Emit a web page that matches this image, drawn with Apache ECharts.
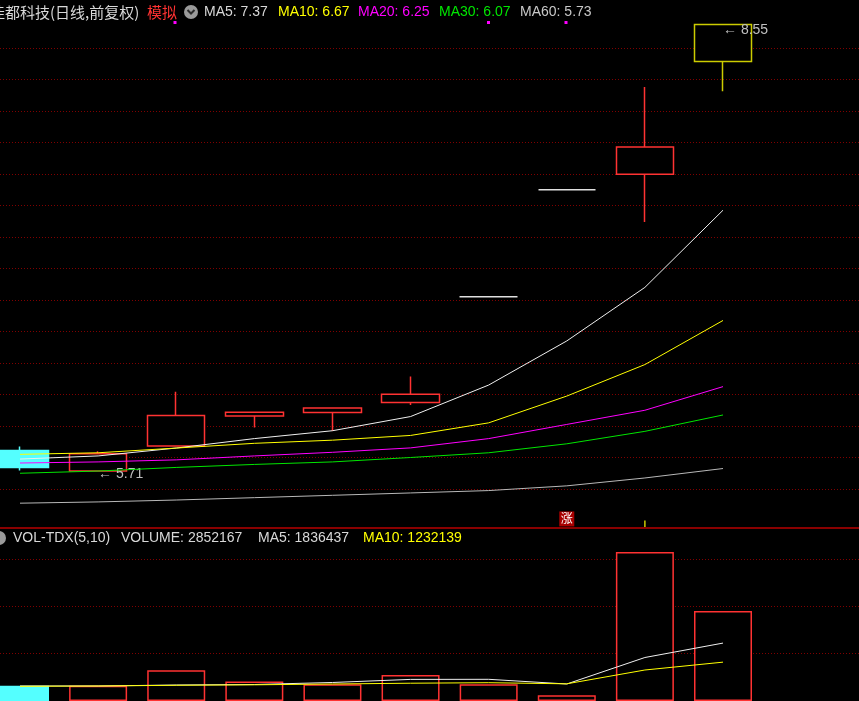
<!DOCTYPE html>
<html>
<head>
<meta charset="utf-8">
<script src="https://cdn.jsdelivr.net/npm/echarts@6/dist/echarts.min.js"></script>
<style>
html,body{margin:0;padding:0;background:#000;}
#c{width:859px;height:701px;}
</style>
</head>
<body>
<div id="c"></div>
<script>
// ---------- data ----------
const categories = ['1','2','3','4','5','6','7','8','9','10'];
const open  = [5.845, 5.714, 5.873, 6.063, 6.086, 6.150, 6.82, 7.50, 7.598, 8.315];
const close = [5.737, 5.824, 6.066, 6.088, 6.114, 6.201, 6.82, 7.50, 7.771, 8.55];
const low   = [5.718, 5.71,  5.873, 5.99,  5.968, 6.133, 6.82, 7.50, 7.295, 8.125];
const high  = [5.87,  5.839, 6.218, 6.088, 6.114, 6.315, 6.82, 7.50, 8.152, 8.55];
const ma5  = [5.79, 5.81, 5.86, 5.92, 5.97, 6.06, 6.26, 6.54, 6.88, 7.37];
const ma10 = [5.82, 5.83, 5.86, 5.89, 5.91, 5.94, 6.02, 6.19, 6.39, 6.67];
const ma20 = [5.765, 5.772, 5.785, 5.81, 5.833, 5.861, 5.92, 6.01, 6.10, 6.25];
const ma30 = [5.70, 5.714, 5.737, 5.756, 5.772, 5.80, 5.83, 5.887, 5.966, 6.07];
const ma60 = [5.51, 5.518, 5.53, 5.545, 5.56, 5.575, 5.59, 5.62, 5.67, 5.73];
const volume  = [484000, 480000, 974000, 620000, 535000, 825000, 530000, 181000, 4725000, 2852167];
const volMa5  = [476000, 476000, 507000, 523000, 587000, 685000, 688000, 539000, 1379000, 1836437];
const volMa10 = [466000, 476000, 498000, 513000, 539000, 564000, 580000, 545000, 983000, 1232139];
const priceTicks = {min: 5.6, max: 8.4, step: 0.2};
const priceRange = {min: 5.3, max: 8.7};
const volTicks = {min: 0, max: 4500000, step: 1500000};
const stockName = '佳都科技(日线,前复权)';
const simulatedLast = true;
const maxMark = {idx: 9, value: 8.55};
const minMark = {idx: 1, value: 5.71};
const riseSignal = {idx: 7, value: 5.41, text: '涨'};
const tickSignal = {idx: 8, value: 5.375};

// ---------- styles / layout ----------
const UP = '#ff3232', DOWN = '#54ffff', FLAT = '#e0e0e0', SIM = '#cccc00';
const C5 = '#f0f0f0', C10 = '#ffff00', C20 = '#ff00ff', C30 = '#00e600', C60 = '#b8b8b8';
const GRIDC = '#800000';
const LATIN = '"Liberation Sans", Arial, "Noto Sans CJK SC", sans-serif';
const CJK = '"Noto Sans CJK SC", sans-serif';
const PX_PER_PRICE = 157.5;          // vertical scale of the price panel
const PRICE_TOP = 48;                // pixel of priceTicks.max
const VOL_TOP = 559.1, VOL_H = 141.9;
const X_FIRST = 20, X_LAST = 723;    // centres of first and last candle

const n = categories.length;
const candleData = categories.map((c, i) => {
  const item = {value: [open[i], close[i], low[i], high[i]]};
  let col = null;
  if (simulatedLast && i === n - 1) col = SIM;
  else if (open[i] === close[i] && high[i] === low[i]) col = FLAT;
  if (col) item.itemStyle = {color: '#000', color0: '#000', borderColor: col, borderColor0: col};
  return item;
});
const volData = categories.map((c, i) => {
  const down = close[i] < open[i];
  return {value: volume[i], itemStyle: down
    ? {color: DOWN, borderColor: DOWN}
    : {color: '#000', borderColor: UP}};
});

function maLine(data, color, xi, yi) {
  return {type: 'line', data: data, xAxisIndex: xi, yAxisIndex: yi, symbol: 'none', showSymbol: false,
    clip: false, silent: true, lineStyle: {color: color, width: 1}, itemStyle: {color: color}, z: 5};
}
const last = a => a[a.length - 1];
const fmt2 = v => v.toFixed(2);

const headerY = 12, volHeaderY = 538;
function txt(x, y, text, fill, font) {
  return {type: 'text', x: x, y: y, silent: true, z: 50,
    style: {text: text, fill: fill, font: font, verticalAlign: 'middle', textVerticalAlign: 'middle'}};
}

const dataTop = PRICE_TOP - (priceRange.max - priceTicks.max) * PX_PER_PRICE;
const dataH = (priceRange.max - priceRange.min) * PX_PER_PRICE;
const gridH = (priceTicks.max - priceTicks.min) * PX_PER_PRICE;

const chart = echarts.init(document.getElementById('c'), null, {renderer: 'canvas'});
const option = {
  backgroundColor: '#000',
  animation: false,
  grid: [
    {left: X_FIRST, width: X_LAST - X_FIRST, top: dataTop, height: dataH},
    {left: 0, right: 0, top: PRICE_TOP, height: gridH},
    {left: X_FIRST, width: X_LAST - X_FIRST, top: VOL_TOP, height: VOL_H},
    {left: 0, right: 0, top: VOL_TOP, height: VOL_H}
  ],
  xAxis: [
    {gridIndex: 0, type: 'category', data: categories, show: false, boundaryGap: false},
    {gridIndex: 1, type: 'value', min: 0, max: 1, show: false},
    {gridIndex: 2, type: 'category', data: categories, show: false, boundaryGap: false},
    {gridIndex: 3, type: 'value', min: 0, max: 1, show: false}
  ],
  yAxis: [
    {gridIndex: 0, type: 'value', min: priceRange.min, max: priceRange.max, show: false},
    {gridIndex: 1, type: 'value', min: priceTicks.min, max: priceTicks.max, interval: priceTicks.step,
      axisLine: {show: false}, axisTick: {show: false}, axisLabel: {show: false},
      splitLine: {show: true, lineStyle: {color: GRIDC, width: 1, type: [1, 2]}}},
    {gridIndex: 2, type: 'value', min: volTicks.min, max: volTicks.max, show: false},
    {gridIndex: 3, type: 'value', min: volTicks.min, max: volTicks.max, interval: volTicks.step,
      axisLine: {show: false}, axisTick: {show: false}, axisLabel: {show: false},
      splitLine: {show: true, lineStyle: {color: GRIDC, width: 1, type: [1, 2]}}}
  ],
  series: [
    {type: 'candlestick', xAxisIndex: 0, yAxisIndex: 0, data: candleData, barWidth: 58, clip: false, z: 3,
      itemStyle: {color: '#000', color0: DOWN, borderColor: UP, borderColor0: DOWN, borderWidth: 1.5},
      markPoint: {
        silent: true, animation: false,
        data: [
          {coord: [maxMark.idx, maxMark.value], symbol: 'circle', symbolSize: 0,
            label: {show: true, position: 'right', distance: 0, offset: [0, 6], formatter: '← ' + fmt2(maxMark.value),
              color: '#c0c0c0', fontSize: 14, fontFamily: LATIN}},
          {coord: [minMark.idx, minMark.value], symbol: 'circle', symbolSize: 0,
            label: {show: true, position: 'right', distance: 0, offset: [0, 2], formatter: '← ' + fmt2(minMark.value),
              color: '#c0c0c0', fontSize: 14, fontFamily: LATIN}},
          {coord: [riseSignal.idx, riseSignal.value], symbol: 'rect', symbolSize: 15,
            itemStyle: {color: '#a80000'},
            label: {show: true, position: 'inside', formatter: riseSignal.text, color: '#ffffff', fontSize: 12, fontFamily: CJK}},
          {coord: [tickSignal.idx, tickSignal.value], symbol: 'rect', symbolSize: [1.5, 8],
            itemStyle: {color: SIM}, label: {show: false}}
        ]
      }
    },
    maLine(ma5, C5, 0, 0),
    maLine(ma10, C10, 0, 0),
    maLine(ma20, C20, 0, 0),
    maLine(ma30, C30, 0, 0),
    maLine(ma60, C60, 0, 0),
    {type: 'bar', xAxisIndex: 2, yAxisIndex: 2, data: volData, barWidth: 58, clip: false, z: 3,
      itemStyle: {borderWidth: 1.5}},
    maLine(volMa5, C5, 2, 2),
    maLine(volMa10, C10, 2, 2)
  ],
  graphic: [
    {type: 'rect', shape: {x: 0, y: 527, width: 859, height: 2}, style: {fill: '#8a0000'}, silent: true, z: 40},
    txt(-10, headerY, stockName, '#d8d8d8', '15px ' + CJK),
    txt(147, headerY, '模拟', '#ff3232', '15px ' + CJK),
    {type: 'circle', shape: {cx: 191, cy: 12, r: 7}, style: {fill: '#9a9a9a'}, silent: true, z: 50},
    {type: 'polyline', shape: {points: [[187.5, 10], [191, 13.5], [194.5, 10]]}, style: {stroke: '#2a2a2a', lineWidth: 2, fill: null}, silent: true, z: 51},
    txt(204, headerY, 'MA5: ' + fmt2(last(ma5)), '#d8d8d8', '14px ' + LATIN),
    txt(278, headerY, 'MA10: ' + fmt2(last(ma10)), C10, '14px ' + LATIN),
    txt(358, headerY, 'MA20: ' + fmt2(last(ma20)), C20, '14px ' + LATIN),
    txt(439, headerY, 'MA30: ' + fmt2(last(ma30)), C30, '14px ' + LATIN),
    txt(520, headerY, 'MA60: ' + fmt2(last(ma60)), '#c8c8c8', '14px ' + LATIN),
    {type: 'rect', shape: {x: 173.5, y: 21, width: 3, height: 3}, style: {fill: '#ff00ff'}, silent: true, z: 50},
    {type: 'rect', shape: {x: 487, y: 21, width: 3, height: 3}, style: {fill: '#ff00ff'}, silent: true, z: 50},
    {type: 'rect', shape: {x: 564.5, y: 21, width: 3, height: 3}, style: {fill: '#ff00ff'}, silent: true, z: 50},
    {type: 'circle', shape: {cx: -1, cy: volHeaderY, r: 7}, style: {fill: '#9a9a9a'}, silent: true, z: 50},
    txt(13, volHeaderY, 'VOL-TDX(5,10)', '#d8d8d8', '14px ' + LATIN),
    txt(121, volHeaderY, 'VOLUME: ' + last(volume), '#d8d8d8', '14px ' + LATIN),
    txt(258, volHeaderY, 'MA5: ' + last(volMa5), '#d8d8d8', '14px ' + LATIN),
    txt(363, volHeaderY, 'MA10: ' + last(volMa10), C10, '14px ' + LATIN)
  ]
};
chart.setOption(option);
</script>
</body>
</html>
